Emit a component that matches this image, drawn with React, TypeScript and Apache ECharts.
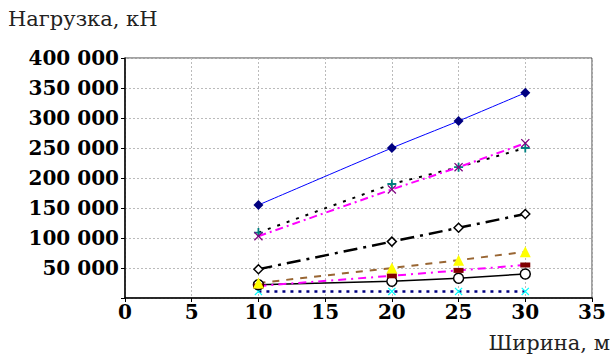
import React, { useEffect, useRef } from "react";
import * as echarts from "echarts";

const widths = [10, 20, 25, 30];
const blueDiamond = [155000, 250000, 295000, 342000];
const magentaCross = [103000, 181000, 218000, 258000];
const blackPlus = [109000, 190000, 218000, 250000];
const openDiamond = [48000, 94000, 117000, 140000];
const yellowTriangle = [25000, 50000, 63000, 77000];
const maroonRect = [20000, 37000, 46000, 55000];
const openCircle = [22000, 28000, 33000, 40000];
const cyanCross = [11000, 11000, 11000, 11000];

const yTitle = "Нагрузка, кН";
const xTitle = "Ширина, м";

const X_PATH =
  "path://M0,1 L1,0 L5,4 L9,0 L10,1 L6,5 L10,9 L9,10 L5,6 L1,10 L0,9 L4,5 Z";
const PLUS_PATH = "path://M4,0 L6,0 L6,4 L10,4 L10,6 L6,6 L6,10 L4,10 L4,6 L0,6 L0,4 L4,4 Z";

const FONT = "'DejaVu Serif', serif";

function pts(vals: number[]) {
  return widths.map((w, i) => [w, vals[i]]);
}

export default function App() {
  const ref = useRef<HTMLDivElement>(null);
  useEffect(() => {
    if (!ref.current) return;
    const chart = echarts.init(ref.current, undefined, { renderer: "svg" });
    const fmt = (v: number) =>
      v === 0 ? "" : String(v).replace(/\B(?=(\d{3})+(?!\d))/g, " ");
    chart.setOption({
      animation: false,
      backgroundColor: "#fff",
      graphic: [
        {
          type: "text",
          left: 8,
          top: 8,
          style: {
            text: yTitle,
            fontFamily: FONT,
            fontSize: 21,
            fontWeight: "normal",
            fill: "#222",
          },
        },
        {
          type: "text",
          right: 4,
          top: 332,
          style: {
            text: xTitle,
            fontFamily: FONT,
            fontSize: 21,
            fontWeight: "normal",
            fill: "#222",
          },
        },
      ],
      grid: {
        left: 125,
        right: 22,
        top: 58,
        bottom: 62,
        show: true,
        borderColor: "#444",
        borderWidth: 1,
        backgroundColor: "transparent",
      },
      xAxis: {
        type: "value",
        min: 0,
        max: 35,
        interval: 5,
        axisLine: { show: true, lineStyle: { color: "#000", width: 1.5 } },
        axisTick: { show: true, length: 4, lineStyle: { color: "#000" } },
        axisLabel: {
          fontFamily: FONT,
          fontSize: 20,
          fontWeight: "bold",
          color: "#000",
          margin: 4,
        },
        splitLine: { show: true, lineStyle: { color: "#bbb", type: [2, 2] } },
      },
      yAxis: {
        type: "value",
        min: 0,
        max: 400000,
        interval: 50000,
        axisLine: { show: true, lineStyle: { color: "#000", width: 1.5 } },
        axisTick: { show: true, length: 4, lineStyle: { color: "#000" } },
        axisLabel: {
          fontFamily: FONT,
          fontSize: 20,
          fontWeight: "bold",
          color: "#000",
          margin: 6,
          formatter: fmt,
        },
        splitLine: { show: true, lineStyle: { color: "#bbb", type: [2, 2] } },
      },
      series: [
        {
          type: "line",
          data: pts(cyanCross),
          symbol: X_PATH,
          symbolSize: 8,
          itemStyle: { color: "#00ffff" },
          lineStyle: { color: "#000080", width: 2.5, type: [3, 5] },
        },
        {
          type: "line",
          data: pts(openCircle),
          symbol: "circle",
          symbolSize: 10,
          itemStyle: { color: "#fff", borderColor: "#000", borderWidth: 1.5 },
          lineStyle: { color: "#000", width: 1.5 },
        },
        {
          type: "line",
          data: pts(maroonRect),
          symbol: "rect",
          symbolSize: [10, 5],
          itemStyle: { color: "#800000" },
          lineStyle: { color: "#ff00ff", width: 2, type: [8, 5, 2, 5] },
        },
        {
          type: "line",
          data: pts(yellowTriangle),
          symbol: "triangle",
          symbolSize: 11,
          itemStyle: { color: "#ffff00" },
          lineStyle: { color: "#996633", width: 2, type: [7, 7] },
        },
        {
          type: "line",
          data: pts(openDiamond),
          symbol: "diamond",
          symbolSize: 9,
          itemStyle: { color: "#fff", borderColor: "#000", borderWidth: 1.5 },
          lineStyle: { color: "#000", width: 2.5, type: [14, 6, 3, 6] },
        },
        {
          type: "line",
          data: pts(blackPlus),
          symbol: PLUS_PATH,
          symbolSize: 9,
          itemStyle: { color: "#008080" },
          lineStyle: { color: "#000", width: 2, type: [3, 7] },
        },
        {
          type: "line",
          data: pts(magentaCross),
          symbol: X_PATH,
          symbolSize: 9,
          itemStyle: { color: "#800080" },
          lineStyle: { color: "#ff00ff", width: 2, type: [8, 4, 2, 4] },
        },
        {
          type: "line",
          data: pts(blueDiamond),
          symbol: "diamond",
          symbolSize: 10,
          smooth: 0.25,
          itemStyle: { color: "#000080" },
          lineStyle: { color: "#0000ff", width: 1 },
        },
      ],
    });
    return () => chart.dispose();
  }, []);
  return (
    <div
      ref={ref}
      style={{ width: 614, height: 360, position: "absolute", left: 0, top: 0 }}
    />
  );
}
